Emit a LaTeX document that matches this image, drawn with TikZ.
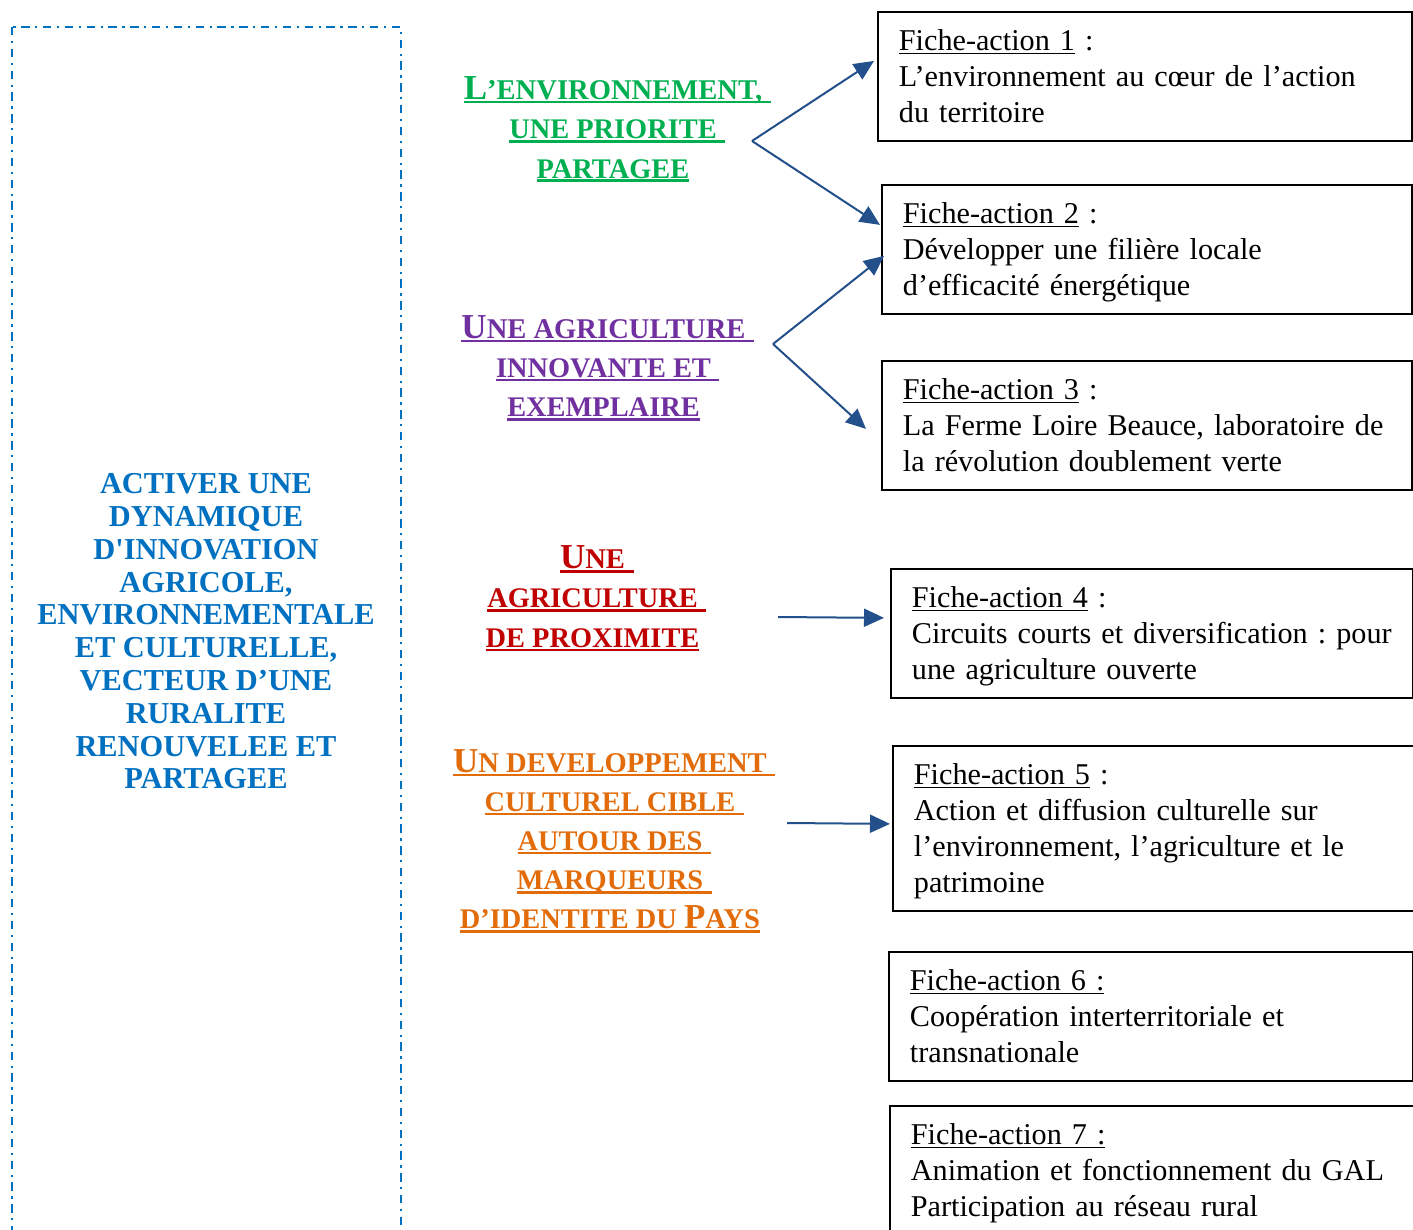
\documentclass[tikz,border=0pt]{standalone}
\usepackage{fontspec}
\setmainfont{Liberation Serif}
\usetikzlibrary{arrows.meta}
\frenchspacing
\definecolor{cgreen}{HTML}{00B050}
\definecolor{cpurple}{HTML}{7030A0}
\definecolor{cred}{HTML}{C00000}
\definecolor{corange}{HTML}{E36C0A}
\definecolor{cblue}{HTML}{0070C0}
\definecolor{carrow}{HTML}{23508A}
\newcommand\ulH[1]{\setbox0=\hbox{#1}\leavevmode\rlap{\rule[-1.9pt]{\wd0}{1.2pt}}\box0\relax}
\newcommand\ulT[1]{\setbox0=\hbox{#1}\leavevmode\rlap{\rule[-1.9pt]{\dimexpr\wd0+0.3em\relax}{1.2pt}}\box0\relax}
\newcommand\ulF[1]{\setbox0=\hbox{#1}\leavevmode\rlap{\rule[-1.4pt]{\wd0}{0.55pt}}\box0\relax}
\newcommand\hdBig[1]{{\fontsize{17.5}{19.6}\selectfont #1}}
\newcommand\hdSm[1]{{\fontsize{14.3}{19.6}\selectfont #1}}
\newcommand\hdMid[1]{{\fontsize{14.2}{19.6}\selectfont #1}}
\newcommand\firstL{\rule{0pt}{19.5pt}}
\newcommand\lastL{\rule[-9pt]{0pt}{9pt}}
\tikzset{
  fbox/.style={draw=black, line width=0.9pt, inner xsep=10.5pt, inner ysep=0pt,
    anchor=north west, align=left, font=\fontsize{15.1}{18}\selectfont\frenchspacing},
  head/.style={inner sep=0pt, align=center, anchor=north,
    font=\bfseries\fontsize{14.2}{19.6}\selectfont},
  arr/.style={draw=carrow, line width=1pt, -{Triangle[length=10pt,width=9pt]}},
  leftbox/.style={draw=cblue, line width=1.3pt,
    dash pattern=on 4.2pt off 2.8pt on 1.1pt off 2.8pt},
}
\begin{document}
\begin{tikzpicture}[x=0.5pt,y=-0.5pt]
\useasboundingbox (0,0) rectangle (1413,1230);
\clip (0,0) rectangle (1413,1230);
% left frame
\draw[leftbox] (12,27) rectangle (401,1260);
\node[anchor=north, align=center, inner sep=0pt, text=cblue,
  font=\bfseries\fontsize{15.2}{16.4}\selectfont] (main) at (206,469.3)
  {\rule{0pt}{12pt}ACTIVER UNE\\ DYNAMIQUE\\ D\textquotesingle INNOVATION\\ AGRICOLE,\\
   ENVIRONNEMENTALE\\ ET CULTURELLE,\\ VECTEUR D’UNE\\ RURALITE\\ RENOUVELEE ET\\ PARTAGEE};
% headings
\node[head, text=cgreen] (hg) at (613,75.3)
  {\rule{0pt}{12pt}\ulT{\hdBig{L}\hdSm{’ENVIRONNEMENT,}}\\ \ulT{\hdMid{UNE PRIORITE}}\\ \ulH{\hdMid{PARTAGEE}}};
\node[head, text=cpurple] (hp) at (603.5,314)
  {\rule{0pt}{12pt}\ulT{\hdBig{U}\hdSm{NE AGRICULTURE}}\\ \ulT{\hdMid{INNOVANTE ET}}\\ \ulH{\hdMid{EXEMPLAIRE}}};
\node[head, text=cred] (hr) at (592.5,544.3)
  {\rule{0pt}{12pt}\ulT{\hdBig{U}\hdSm{NE}}\\ \ulT{\hdMid{AGRICULTURE}}\\ \ulH{\hdMid{DE PROXIMITE}}};
\node[head, text=corange] (ho) at (610,747.7)
  {\rule{0pt}{12pt}\ulT{\hdBig{U}\hdSm{N DEVELOPPEMENT}}\\ \ulT{\hdMid{CULTUREL CIBLE}}\\ \ulT{\hdMid{AUTOUR DES}}\\ \ulT{\hdMid{MARQUEURS}}\\ \ulH{\hdMid{D’IDENTITE DU }\hdBig{P}\hdSm{AYS}}};
% boxes
\node[fbox, text width=246pt] (b1) at (877,11)
  {\firstL\ulF{Fiche-action 1} :\\ \mbox{L’environnement au cœur de l’action}\\ \mbox{du territoire}\lastL};
\node[fbox, text width=244pt] (b2) at (881,184)
  {\firstL\ulF{Fiche-action 2} :\\ \mbox{Développer une filière locale}\\ \mbox{d’efficacité énergétique}\lastL};
\node[fbox, text width=244pt] (b3) at (881,360)
  {\firstL\ulF{Fiche-action 3} :\\ \mbox{La Ferme Loire Beauce, laboratoire de}\\ \mbox{la révolution doublement verte}\lastL};
\node[fbox, text width=240pt] (b4) at (890,568)
  {\firstL\ulF{Fiche-action 4} :\\ \mbox{Circuits courts et diversification : pour}\\ \mbox{une agriculture ouverte}\lastL};
\node[fbox, text width=259pt] (b5) at (892,745)
  {\firstL\ulF{Fiche-action 5} :\\ \mbox{Action et diffusion culturelle sur}\\ \mbox{l’environnement, l’agriculture et le}\\ \mbox{patrimoine}\lastL};
\node[fbox, text width=241pt] (b6) at (888,951)
  {\firstL\ulF{Fiche-action 6 :}\\ \mbox{Coopération interterritoriale et}\\ \mbox{transnationale}\lastL};
\node[fbox, text width=244pt] (b7) at (889,1105)
  {\firstL\ulF{Fiche-action 7 :}\\ \mbox{Animation et fonctionnement du GAL}\\ \mbox{Participation au réseau rural}\lastL};
% arrows
\coordinate (fg) at (752,141);
\coordinate (fp) at (773,344);
\coordinate (sr) at (778,617);
\coordinate (so) at (787,823);
\draw[arr] (fg) -- ([shift={(-3,-15.5)}]b1.west);
\draw[arr] (fg) -- ([shift={(-1,-24.5)}]b2.west);
\draw[arr] (fp) -- ([shift={(3,6.5)}]b2.west);
\draw[arr] (fp) -- ([shift={(-15,3.5)}]b3.west);
\draw[arr] (sr) -- ([shift={(-6,-15.5)}]b4.west);
\draw[arr] (so) -- ([shift={(-2,-4.5)}]b5.west);
\end{tikzpicture}
\end{document}
